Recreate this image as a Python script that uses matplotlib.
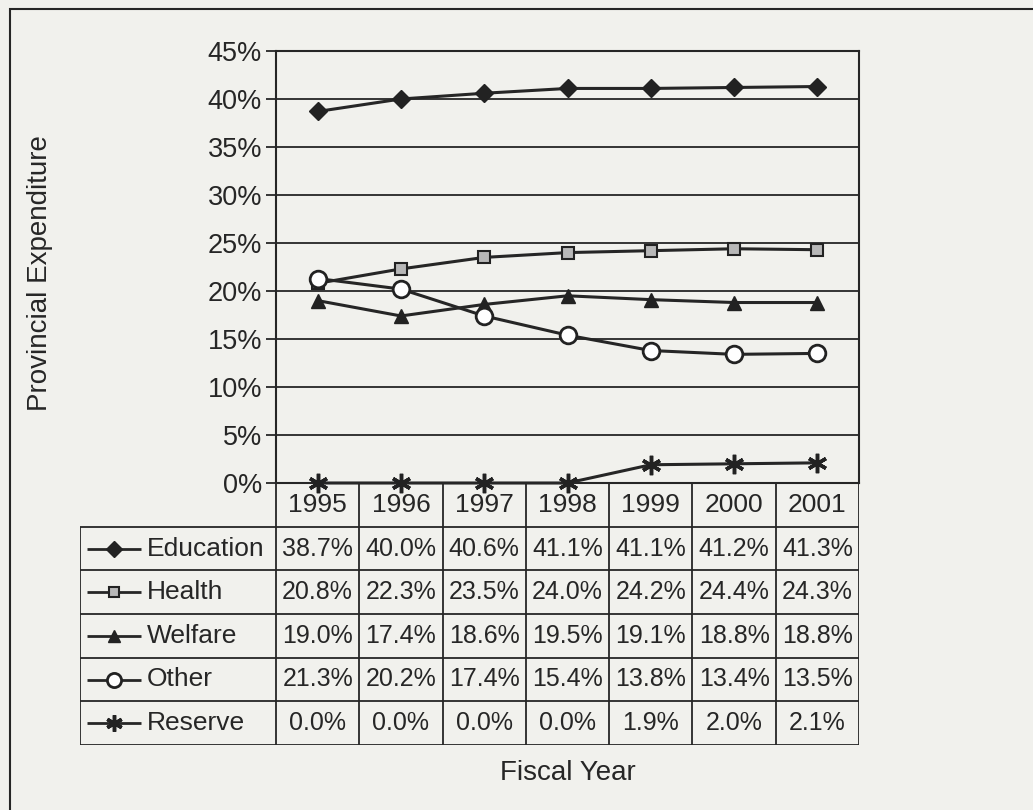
import numpy as np
import matplotlib.pyplot as plt
from matplotlib.patches import Rectangle

years = ["1995", "1996", "1997", "1998", "1999", "2000", "2001"]
education = [38.7, 40.0, 40.6, 41.1, 41.1, 41.2, 41.3]
health = [20.8, 22.3, 23.5, 24.0, 24.2, 24.4, 24.3]
welfare = [19.0, 17.4, 18.6, 19.5, 19.1, 18.8, 18.8]
other = [21.3, 20.2, 17.4, 15.4, 13.8, 13.4, 13.5]
reserve = [0.0, 0.0, 0.0, 0.0, 1.9, 2.0, 2.1]

names = ["Education", "Health", "Welfare", "Other", "Reserve"]
series = [education, health, welfare, other, reserve]
styles = [
    dict(marker="D", ms=9, mfc="#222222", mec="#222222"),
    dict(marker="s", ms=9, mfc="#b8b8b8", mec="#222222", mew=1.5),
    dict(marker="^", ms=10, mfc="#222222", mec="#222222"),
    dict(marker="o", ms=12, mfc="white", mec="#222222", mew=2),
    dict(marker=(6, 2, 0), ms=14, mfc="#222222", mec="#222222", mew=2.5),
]

plt.rcParams["font.family"] = ["Liberation Sans", "DejaVu Sans"]
ink = "#262626"
bg = "#f1f1ed"

W, H = 1033, 810
fig = plt.figure(figsize=(W / 100, H / 100), dpi=100, facecolor=bg)

# outer frame (only top and left are inside the picture)
fig.patches.append(Rectangle((10 / W, -0.2), 1.2, 1.2 - 9 / H, transform=fig.transFigure,
                             fill=False, ec=ink, lw=1.5))

# main plot area
L, R, T, B = 276, 859, 51, 483
ax = fig.add_axes([L / W, 1 - B / H, (R - L) / W, (B - T) / H])
ax.set_facecolor(bg)
x = np.arange(len(years))
for vals, st in zip(series, styles):
    ax.plot(x, np.array(vals) / 100, color=ink, lw=2.2, clip_on=False, zorder=3, **st)
ax.set_xlim(-0.5, len(years) - 0.5)
ax.set_ylim(0, 0.45)
ax.set_yticks(np.arange(0, 0.451, 0.05))
ax.set_yticklabels([f"{int(round(v * 100))}%" for v in np.arange(0, 0.451, 0.05)],
                   fontsize=19.5, color=ink)
ax.set_xticks([])
ax.yaxis.grid(True, color=ink, lw=1.3)
ax.tick_params(axis="y", length=7, width=1.3, color=ink, pad=3)
for s in ax.spines.values():
    s.set_color(ink)
    s.set_linewidth(1.5)

# data table below
TL, TB = 80, 745
tab = fig.add_axes([TL / W, 1 - TB / H, (R - TL) / W, (TB - B) / H])
tab.set_facecolor("none")
colw = (R - L) / len(years)
lab_w = (L - TL) / colw
x0 = -0.5 - lab_w
tab.set_xlim(x0, len(years) - 0.5)
tab.set_ylim(6, 0)
tab.axis("off")

lw = 1.3
tab.hlines(np.arange(1, 7), x0, len(years) - 0.5, color=ink, lw=lw)
tab.vlines(np.arange(len(years) + 1) - 0.5, 0, 6, color=ink, lw=lw)
tab.vlines([x0], 1, 6, color=ink, lw=lw)

for i, yr in enumerate(years):
    tab.text(i, 0.5, yr, ha="center", va="center", fontsize=19, color=ink)

px = lambda p: x0 + (p - TL) / colw
for r, (name, vals, st) in enumerate(zip(names, series, styles)):
    yc = r + 1.5
    tab.plot([px(87), px(141)], [yc, yc], color=ink, lw=2, solid_capstyle="butt")
    st2 = dict(st)
    st2["ms"] = st["ms"] * 0.85
    tab.plot([px(114)], [yc], color=ink, **st2)
    tab.text(px(147), yc, name, ha="left", va="center", fontsize=19, color=ink)
    for i, v in enumerate(vals):
        tab.text(i, yc, f"{v:.1f}%", ha="center", va="center", fontsize=18, color=ink)

fig.text(40 / W, 1 - 273 / H, "Provincial Expenditure", rotation=90, ha="center",
         va="center", fontsize=20, color=ink)
fig.text((L + R) / 2 / W, 1 - 773 / H, "Fiscal Year", ha="center", va="center",
         fontsize=20, color=ink)

fig.savefig("out.png", dpi=100, facecolor=bg)
